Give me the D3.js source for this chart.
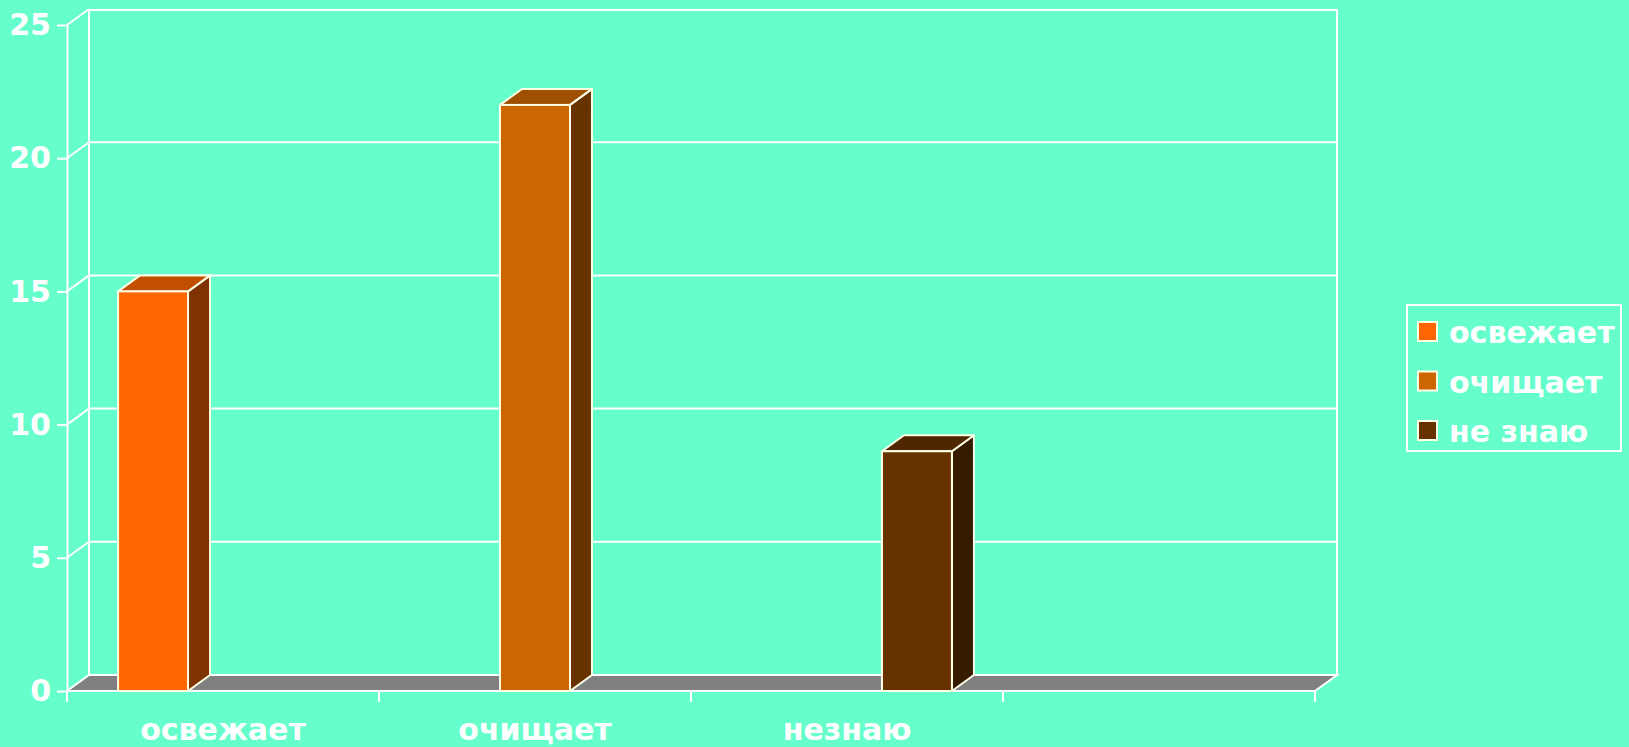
<!DOCTYPE html>
<html><head><meta charset="utf-8">
<script src="https://cdn.jsdelivr.net/npm/d3@7"></script>
<style>
html,body{margin:0;padding:0;background:#66FFCC;}
svg{display:block;}
text{font-family:"DejaVu Sans",Verdana,sans-serif;font-weight:bold;fill:#fff;}
</style></head>
<body>
<svg id="c" width="1629" height="747"></svg>
<script>
const categories = ["освежает", "очищает", "незнаю", ""];
const seriesNames = ["освежает", "очищает", "не знаю"];
const valuesSeries1 = [15, null, null, null];
const valuesSeries2 = [null, 22, null, null];
const valuesSeries3 = [null, null, 9, null];
const yTicks = [0, 5, 10, 15, 20, 25];
const frontColors = ["#FF6600", "#CC6600", "#663300"];
const topColors = ["#C24E00", "#9E4F00", "#4E2700"];
const sideColors = ["#7F3300", "#663300", "#361B00"];

(function () {
const series = [valuesSeries1, valuesSeries2, valuesSeries3];
const svg = d3.select("#c");
const W = 1629, H = 747;
svg.append("rect").attr("width", W).attr("height", H).attr("fill", "#66FFCC");

const pLeft = 67, pRight = 1315, pTop = 25, pBottom = 691;
const dx = 22, dy = -16;
const sw = 2;
const stroke = "#FFFFFF", barStroke = "#FFFFE6";

const y = d3.scaleLinear().domain([0, 25]).range([pBottom, pTop]);
const x = d3.scaleBand().domain(d3.range(categories.length)).range([pLeft, pRight]).padding(0);
const xs = d3.scaleBand().domain(d3.range(seriesNames.length)).range([0, x.bandwidth()]).paddingInner(0).paddingOuter(0.73);

// back wall
svg.append("rect").attr("x", pLeft + dx).attr("y", y(25) + dy + 1)
  .attr("width", pRight - pLeft).attr("height", y(0) - y(25) - 1)
  .attr("fill", "none").attr("stroke", stroke).attr("stroke-width", sw);
// gridlines on back wall
svg.append("g").selectAll("line").data(yTicks.filter(d => d > 0 && d < 25)).join("line")
  .attr("x1", pLeft + dx).attr("x2", pRight + dx)
  .attr("y1", d => y(d) + dy).attr("y2", d => y(d) + dy)
  .attr("stroke", stroke).attr("stroke-width", sw);
// left wall diagonals
svg.append("g").selectAll("line").data(yTicks.filter(d => d > 0)).join("line")
  .attr("x1", pLeft).attr("x2", pLeft + dx)
  .attr("y1", d => y(d)).attr("y2", d => y(d) + dy)
  .attr("stroke", stroke).attr("stroke-width", sw);
// floor
svg.append("path")
  .attr("d", `M${pLeft},${y(0)}L${pRight},${y(0)}L${pRight + dx},${y(0) + dy}L${pLeft + dx},${y(0) + dy}Z`)
  .attr("fill", "#808080").attr("stroke", stroke).attr("stroke-width", sw);

// y axis
const yAxis = d3.axisLeft(y).tickValues(yTicks).tickSize(10).tickSizeOuter(0).tickPadding(6);
const gy = svg.append("g").attr("transform", `translate(${pLeft},0)`).call(yAxis);
gy.selectAll("path,line").attr("stroke", stroke).attr("stroke-width", sw);
gy.selectAll("text").attr("font-size", 30).attr("font-family", "DejaVu Sans, Verdana, sans-serif")
  .attr("font-weight", "bold").attr("fill", "#fff");

// x axis labels
const xAxis = d3.axisBottom(x).tickFormat(i => categories[i]).tickSize(0).tickPadding(28);
const gx = svg.append("g").attr("transform", `translate(0,${pBottom})`).call(xAxis);
gx.select(".domain").remove();
gx.selectAll("text").attr("font-size", 30).attr("font-family", "DejaVu Sans, Verdana, sans-serif")
  .attr("font-weight", "bold").attr("fill", "#fff");
// category boundary ticks
const bounds = d3.range(categories.length).map(i => x(i)).concat([x(categories.length - 1) + x.bandwidth()]);
svg.append("g").selectAll("line").data(bounds).join("line")
  .attr("x1", d => d).attr("x2", d => d).attr("y1", pBottom).attr("y2", pBottom + 11)
  .attr("stroke", stroke).attr("stroke-width", sw);

// bars
const bars = [];
series.forEach((vals, s) => vals.forEach((v, c) => { if (v != null) bars.push({ s, c, v }); }));
const gb = svg.append("g");
bars.forEach(b => {
  const x0 = x(b.c) + xs(b.s), x1 = x0 + xs.bandwidth();
  const yt = y(b.v), y0 = y(0);
  const g = gb.append("g");
  g.append("path")
    .attr("d", `M${x1},${yt}L${x1 + dx},${yt + dy}L${x1 + dx},${y0 + dy}L${x1},${y0}Z`)
    .attr("fill", sideColors[b.s]).attr("stroke", barStroke).attr("stroke-width", sw).attr("stroke-linejoin", "round");
  g.append("path")
    .attr("d", `M${x0},${yt}L${x1},${yt}L${x1 + dx},${yt + dy}L${x0 + dx},${yt + dy}Z`)
    .attr("fill", topColors[b.s]).attr("stroke", barStroke).attr("stroke-width", sw).attr("stroke-linejoin", "round");
  g.append("rect").attr("x", x0).attr("y", yt).attr("width", x1 - x0).attr("height", y0 - yt)
    .attr("fill", frontColors[b.s]).attr("stroke", barStroke).attr("stroke-width", sw);
});

// legend
const lg = svg.append("g");
lg.append("rect").attr("x", 1407).attr("y", 305).attr("width", 214).attr("height", 146)
  .attr("fill", "none").attr("stroke", stroke).attr("stroke-width", sw);
const rowY = d3.scalePoint().domain(d3.range(seriesNames.length)).range([343, 442]);
seriesNames.forEach((name, i) => {
  lg.append("rect").attr("x", 1418).attr("y", rowY(i) - 21).attr("width", 19).attr("height", 19)
    .attr("fill", frontColors[i]).attr("stroke", "#FFFFE6").attr("stroke-width", sw);
  lg.append("text").attr("x", 1449).attr("y", rowY(i)).attr("font-size", 30).text(name);
});
})();
</script>
</body></html>
